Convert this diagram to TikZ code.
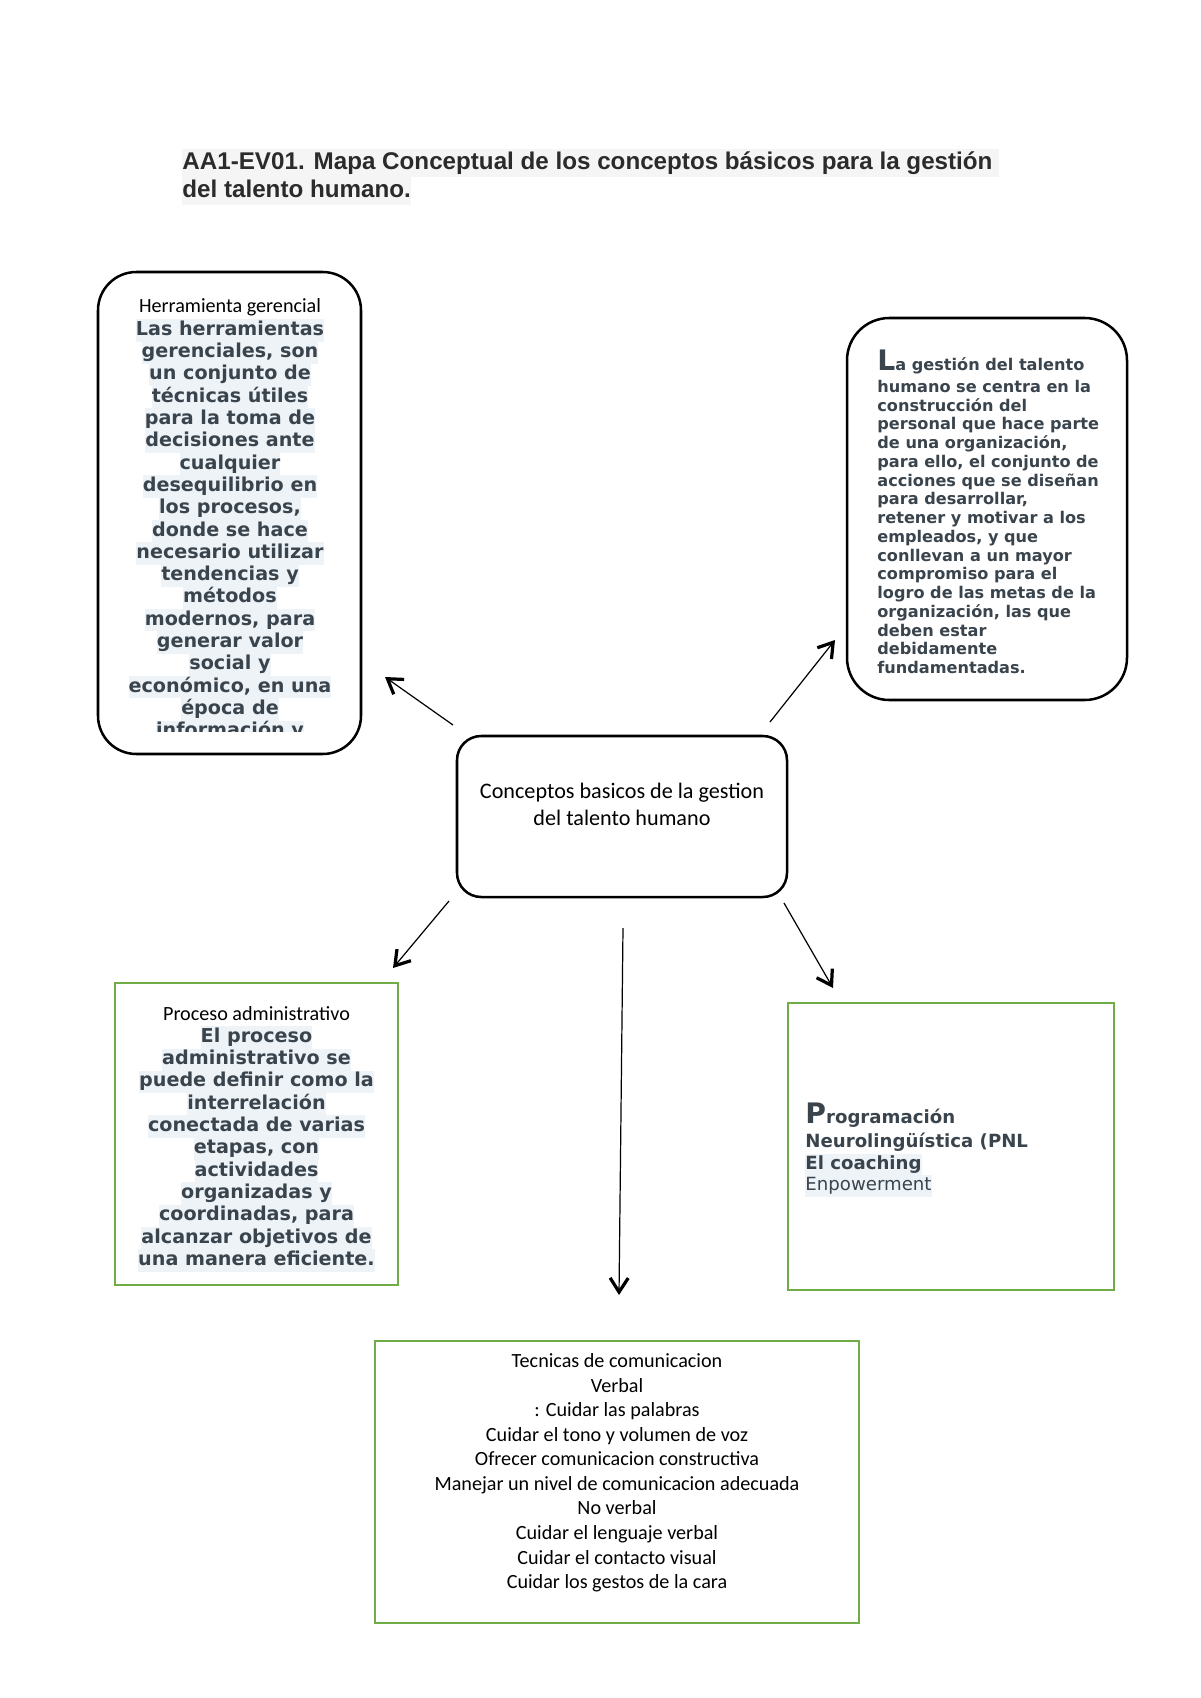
\documentclass[tikz,border=0pt]{standalone}
\usepackage{fontspec}
\setmainfont{Carlito}
\newfontfamily\djv{DejaVu Sans}
\newfontfamily\lsans{Liberation Sans}
\usetikzlibrary{arrows.meta,fit}
\definecolor{gborder}{HTML}{70AD47}
\definecolor{slate}{HTML}{3A444D}
\definecolor{shade}{HTML}{EEF3F7}
\definecolor{tshade}{HTML}{F5F5F5}
\definecolor{titlec}{HTML}{2B2B2B}
\newcommand\lnstrut{\rule[-0.28\baselineskip]{0pt}{\baselineskip}}
\newcommand\hl[1]{{\setlength\fboxsep{0pt}\colorbox{shade}{\lnstrut#1}}}
\newcommand\thl[1]{{\setlength\fboxsep{0pt}\colorbox{tshade}{\lnstrut#1}}}
\begin{document}
\begin{tikzpicture}[x=0.4961pt,y=-0.4961pt,
  rbox/.style={draw=black,line width=1.25pt,inner sep=0pt},
  gbox/.style={draw=gborder,line width=1.2pt,inner sep=0pt},
  conn/.style={line width=0.6pt,-{Straight Barb[length=7pt,width=9pt,line width=1.6pt]}},
  boldtxt/.style={font={\djv\bfseries\fontsize{9.5}{11.06}\selectfont},text=slate,inner sep=0pt,align=center},
  smalltxt/.style={font={\djv\bfseries\fontsize{8}{9.3}\selectfont},text=slate,inner sep=0pt,align=left},
  progtxt/.style={font={\djv\bfseries\fontsize{9}{10.76}\selectfont},text=slate,inner sep=0pt,align=left},
  cartxt/.style={font={\fontsize{10}{12.2}\selectfont},text=black,inner sep=0pt,align=center}
]
\fill[white] (0,0) rectangle (1200,1698);
\useasboundingbox (0,0) rectangle (1200,1698);

% title
\node[anchor=north west,inner sep=0pt,align=left,text=titlec,
  font={\lsans\bfseries\fontsize{12}{13.9}\selectfont}] (title) at (182,148.8)
  {\thl{AA1-EV01. Mapa Conceptual de los conceptos básicos para la gestión }\\
   \thl{del talento humano.}};

% boxes
\node[rbox,rounded corners=19pt,fit={(98,272) (361,754)}] (herr) {};
\node[rbox,rounded corners=21pt,fit={(847,318) (1127,700)}] (gest) {};
\node[rbox,rounded corners=12pt,fit={(457,736) (787,897)}] (center) {};
\node[gbox,fit={(115,983) (398,1285)}] (proc) {};
\node[gbox,fit={(788,1003) (1114,1290)}] (prog) {};
\node[gbox,fit={(375,1341) (859,1623)}] (tecn) {};

% center text
\node[anchor=north,inner sep=0pt,align=center,font={\fontsize{11}{13.4}\selectfont}] (centertxt) at (622,778.6)
  {\lnstrut Conceptos basicos de la gestion\\del talento humano};

% herramienta
\node[cartxt,anchor=base] (herrh) at (230,312) {Herramienta gerencial};
\begin{scope}
\clip (100,280) rectangle (360,731);
\node[boldtxt,anchor=north] (herrt) at (230,318.9)
  {\hl{Las herramientas}\\
   \hl{gerenciales, son}\\
   \hl{un conjunto de}\\
   \hl{técnicas útiles}\\
   \hl{para la toma de}\\
   \hl{decisiones ante}\\
   \hl{cualquier}\\
   \hl{desequilibrio en}\\
   \hl{los procesos,}\\
   \hl{donde se hace}\\
   \hl{necesario utilizar}\\
   \hl{tendencias y}\\
   \hl{métodos}\\
   \hl{modernos, para}\\
   \hl{generar valor}\\
   \hl{social y}\\
   \hl{económico, en una}\\
   \hl{época de}\\
   \hl{información y}};
\end{scope}

% gestion del talento
\node[smalltxt,anchor=base west] (gesth) at (877,370)
  {{\fontsize{14}{16}\selectfont L}a gestión del talento};
\node[smalltxt,anchor=north west] (gestt) at (877,378.5)
  {\lnstrut humano se centra en la\\
   construcción del\\
   personal que hace parte\\
   de una organización,\\
   para ello, el conjunto de\\
   acciones que se diseñan\\
   para desarrollar,\\
   retener y motivar a los\\
   empleados, y que\\
   conllevan a un mayor\\
   compromiso para el\\
   logro de las metas de la\\
   organización, las que\\
   deben estar\\
   debidamente\\
   fundamentadas.};

% proceso administrativo
\node[cartxt,anchor=base] (proch) at (256.5,1020) {Proceso administrativo};
\node[boldtxt,anchor=north] (proct) at (256.5,1025.9)
  {\hl{El proceso}\\
   \hl{administrativo se}\\
   \hl{puede definir como la}\\
   \hl{interrelación}\\
   \hl{conectada de varias}\\
   \hl{etapas, con}\\
   \hl{actividades}\\
   \hl{organizadas y}\\
   \hl{coordinadas, para}\\
   \hl{alcanzar objetivos de}\\
   \hl{una manera eficiente.}};

% programacion
\node[progtxt,anchor=base west] (progh) at (805,1123)
  {{\fontsize{14}{16}\selectfont P}rogramación};
\node[progtxt,anchor=north west] (progt) at (805,1131.4)
  {\lnstrut Neurolingüística (PNL\\
   \hl{El coaching}\\
   \hl{\mdseries Enpowerment}};

% tecnicas
\node[cartxt,anchor=north] (tecnt) at (617,1349.3)
  {\lnstrut Tecnicas de comunicacion\\
   Verbal\\
   : Cuidar las palabras\\
   Cuidar el tono y volumen de voz\\
   Ofrecer comunicacion constructiva\\
   Manejar un nivel de comunicacion adecuada\\
   No verbal\\
   Cuidar el lenguaje verbal\\
   Cuidar el contacto visual\\
   Cuidar los gestos de la cara};

% connectors
\coordinate (a1s) at (453,725);
\coordinate (a1e) at (385,677);
\coordinate (a2s) at (770,722);
\coordinate (a2e) at (835,640);
\coordinate (a3s) at (449,901);
\coordinate (a3e) at (393,968);
\coordinate (a4s) at (784,903);
\coordinate (a4e) at (833,988);
\coordinate (a5s) at (623,928);
\coordinate (a5e) at (619,1295);
\draw[conn] (a1s) -- (a1e);
\draw[conn] (a2s) -- (a2e);
\draw[conn] (a3s) -- (a3e);
\draw[conn] (a4s) -- (a4e);
\draw[conn] (a5s) -- (a5e);
\end{tikzpicture}
\end{document}
